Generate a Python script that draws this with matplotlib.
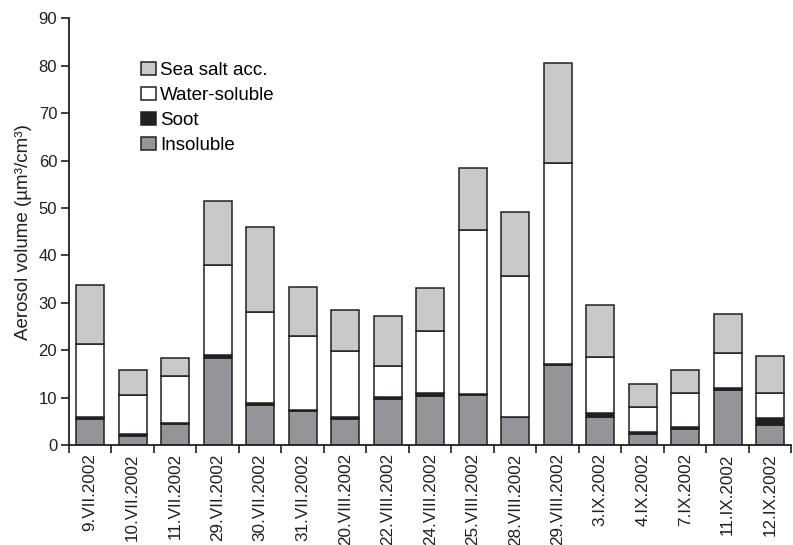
import matplotlib
matplotlib.use("Agg")
import matplotlib.pyplot as plt
import numpy as np

plt.rcParams['font.family'] = ['Liberation Sans', 'DejaVu Sans']

dates = ["9.VII.2002", "10.VII.2002", "11.VII.2002", "29.VII.2002", "30.VII.2002",
         "31.VII.2002", "20.VIII.2002", "22.VIII.2002", "24.VIII.2002", "25.VIII.2002",
         "28.VIII.2002", "29.VIII.2002", "3.IX.2002", "4.IX.2002", "7.IX.2002",
         "11.IX.2002", "12.IX.2002"]
insoluble = [5.5, 2.0, 4.5, 18.4, 8.4, 7.2, 5.5, 9.6, 10.4, 10.6, 5.8, 16.9, 6.0, 2.4, 3.3, 11.5, 4.3]
soot = [0.5, 0.3, 0.1, 0.6, 0.5, 0.2, 0.3, 0.6, 0.5, 0.1, 0.1, 0.1, 0.8, 0.35, 0.4, 0.6, 1.3]
water_soluble = [15.4, 8.2, 9.9, 19.0, 19.1, 15.6, 14.1, 6.5, 13.1, 34.7, 29.7, 42.5, 11.8, 5.25, 7.2, 7.4, 5.3]
sea_salt = [12.4, 5.4, 3.9, 13.5, 18.0, 10.4, 8.5, 10.4, 9.1, 13.1, 13.5, 21.1, 10.9, 4.9, 5.0, 8.2, 7.9]

fig = plt.figure(figsize=(7.93, 5.45), dpi=100)
ax = fig.add_axes([0.087, 0.1835, 0.911, 0.783])

x = np.arange(len(dates))
w = 0.66
ec = '#231f20'
lw = 1.1
b1 = np.array(insoluble)
b2 = b1 + np.array(soot)
b3 = b2 + np.array(water_soluble)
h_ins = ax.bar(x, insoluble, w, color='#939598', edgecolor=ec, linewidth=lw, label='Insoluble')
h_soot = ax.bar(x, soot, w, bottom=b1, color='#231f20', edgecolor=ec, linewidth=lw, label='Soot')
h_ws = ax.bar(x, water_soluble, w, bottom=b2, color='white', edgecolor=ec, linewidth=lw, label='Water-soluble')
h_ss = ax.bar(x, sea_salt, w, bottom=b3, color='#c8c9cb', edgecolor=ec, linewidth=lw, label='Sea salt acc.')

ax.set_xlim(-0.5, len(dates) - 0.5)
ax.set_ylim(0, 90)
ax.set_yticks(np.arange(0, 91, 10))
ax.set_xticks(x)
ax.set_xticklabels(dates, rotation=90, fontsize=12.3, color='#231f20')
ax.set_xticks(np.arange(-0.5, len(dates), 1), minor=True)
ax.tick_params(axis='x', which='major', length=0, pad=6)
ax.tick_params(axis='x', which='minor', length=5.5, width=1.2, direction='out', color=ec)
ax.tick_params(axis='y', length=5.5, width=1.2, direction='out', labelsize=12, colors='#231f20', pad=3)
ax.spines['top'].set_visible(False)
ax.spines['right'].set_visible(False)
ax.spines['left'].set_linewidth(1.3)
ax.spines['bottom'].set_linewidth(1.3)
ax.spines['left'].set_color(ec)
ax.spines['bottom'].set_color(ec)
ax.set_ylabel('Aerosol volume (µm³/cm³)', fontsize=13.5, color='#231f20', labelpad=5)

ax.legend(handles=[h_ss, h_ws, h_soot, h_ins], loc='upper left',
          bbox_to_anchor=(0.099, 0.897), frameon=False, fontsize=13.5,
          handlelength=0.8, handleheight=0.67, handletextpad=0.25, labelspacing=0.43,
          borderaxespad=0, borderpad=0)

fig.savefig('out.png', dpi=100)
